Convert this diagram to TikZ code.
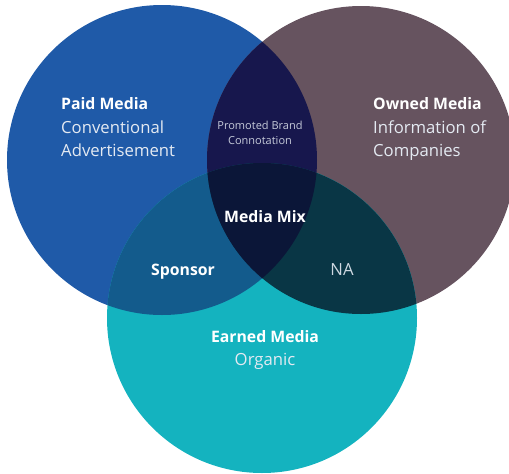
\documentclass[tikz,border=0pt]{standalone}
\usepackage{fontspec}
\setmainfont{Open Sans}
\usepackage{xcolor}
\definecolor{paid}{HTML}{1F5AA8}
\definecolor{owned}{HTML}{66535F}
\definecolor{earned}{HTML}{14B3BF}
\definecolor{paidowned}{HTML}{17174D}
\definecolor{paidearned}{HTML}{135B8C}
\definecolor{ownedearned}{HTML}{093645}
\definecolor{mix}{HTML}{0B1638}
\definecolor{softwhite}{HTML}{E4EAF2}

\begin{document}
\begin{tikzpicture}[x=1pt, y=-1pt,
  title/.style={anchor=base west, inner sep=0pt, text=white, font=\fontsize{15.8}{18}\selectfont\bfseries},
  sub/.style={anchor=base west, inner sep=0pt, text=softwhite, font=\fontsize{16.7}{19}\selectfont},
  small/.style={anchor=base, inner sep=0pt, text=softwhite!85!paidowned, font=\fontsize{11}{13}\selectfont}]
  \useasboundingbox (0,0) rectangle (509,474);
  \def\paidcirc{(162,160) circle (155)}
  \def\ownedcirc{(361,160) circle (154)}
  \def\earnedcirc{(262,318) circle (155)}
  % circles
  \fill[paid] \paidcirc;
  \fill[owned] \ownedcirc;
  \fill[earned] \earnedcirc;
  % overlaps
  \begin{scope}
    \clip \paidcirc;
    \fill[paidowned] \ownedcirc;
    \fill[paidearned] \earnedcirc;
  \end{scope}
  \begin{scope}
    \clip \ownedcirc;
    \fill[ownedearned] \earnedcirc;
  \end{scope}
  \begin{scope}
    \clip \paidcirc;
    \clip \ownedcirc;
    \fill[mix] \earnedcirc;
  \end{scope}
  % labels
  \node[title] (paidt) at (61,109) {Paid Media};
  \node[sub] (paids1) at (61,133) {Conventional};
  \node[sub] (paids2) at (61,156) {Advertisement};
  \node[title] (ownedt) at (373,109) {Owned Media};
  \node[sub] (owneds1) at (373,133) {Information of};
  \node[sub] (owneds2) at (373,156) {Companies};
  \node[small] (promo1) at (260,129) {Promoted Brand};
  \node[small] (promo2) at (260,144) {Connotation};
  \node[title, anchor=base] (mixt) at (265,222) {Media Mix};
  \node[title, anchor=base] (sponsor) at (183,275) {Sponsor};
  \node[sub, anchor=base, text=softwhite!90!ownedearned] (na) at (342,275) {NA};
  \node[title, anchor=base] (earnedt) at (265,342) {Earned Media};
  \node[sub, anchor=base] (earneds) at (265,365) {Organic};
\end{tikzpicture}
\end{document}
